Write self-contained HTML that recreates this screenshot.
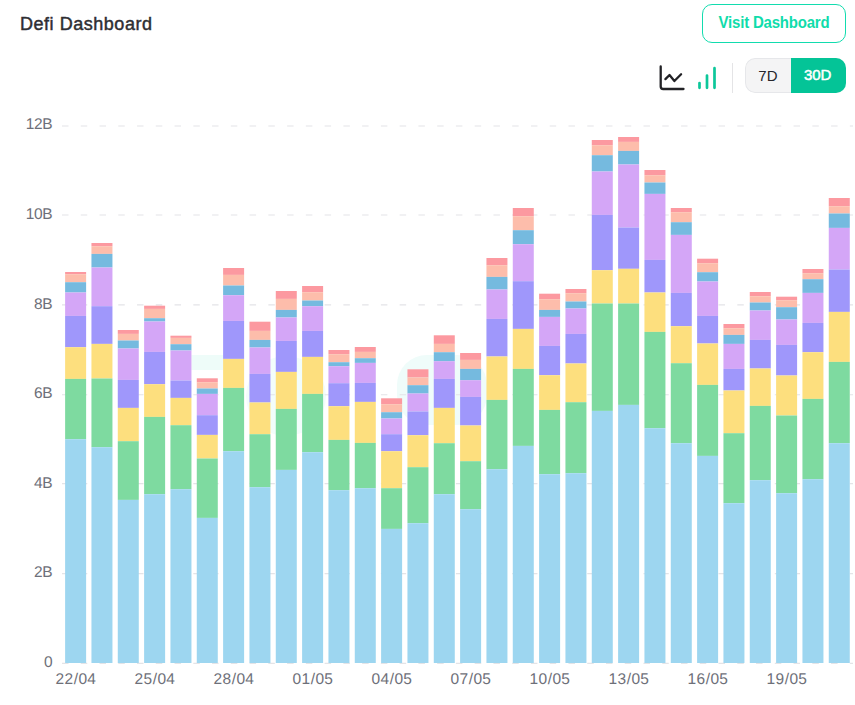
<!DOCTYPE html>
<html><head><meta charset="utf-8"><title>Defi Dashboard</title>
<style>
*{box-sizing:border-box;margin:0;padding:0}
html,body{width:855px;height:705px;background:#fff;overflow:hidden;font-family:"Liberation Sans",sans-serif}
.abs{position:absolute}
.title{position:absolute;left:20px;top:12.7px;font-size:18px;font-weight:normal;-webkit-text-stroke:0.45px #2e2e33;color:#2e2e33;line-height:22px;white-space:nowrap;letter-spacing:0.53px}
.visit{position:absolute;left:702px;top:4px;width:144px;height:39px;border:1.3px solid #12dcae;border-radius:10px;color:#0fdcab;font-weight:bold;font-size:15px;line-height:34.4px;text-align:center;white-space:nowrap;letter-spacing:-0.2px}
.visit span{display:inline-block;position:relative;top:1.4px;transform:scaleY(1.1);transform-origin:50% 62%}
.sep{position:absolute;left:732px;top:63px;width:1px;height:30px;background:#e4e4e6}
.tog{position:absolute;left:745px;top:58px;width:101px;height:35px;border-radius:10px;overflow:hidden;background:#f4f4f5}
.tog .a{position:absolute;left:0;top:0;width:46px;height:35px;line-height:33px;text-align:center;font-size:15px;color:#26262b;background:#f4f4f5;border:1px solid #e6e7ea;border-right:0;border-radius:10px 0 0 10px;text-indent:-1.2px}
.tog .b{position:absolute;left:46px;top:0;width:55px;height:35px;line-height:34.6px;text-align:center;font-size:15px;font-weight:normal;-webkit-text-stroke:0.5px #fff;color:#fff;background:#04c497;text-indent:-1.6px}
.yl{text-rendering:geometricPrecision;position:absolute;left:0;width:52.3px;text-align:right;font-size:15.5px;letter-spacing:-0.35px;line-height:20px;color:#6e7079;white-space:nowrap}
.xl{text-rendering:geometricPrecision;position:absolute;top:669.8px;width:60px;text-align:center;font-size:15.5px;letter-spacing:0.25px;line-height:20px;color:#6e7079;white-space:nowrap}
.xl i{font-style:normal;padding:0 0.3px}
svg{position:absolute;left:0;top:0}
</style></head><body>
<div class="title">Defi Dashboard</div>
<div class="visit"><span>Visit Dashboard</span></div>
<svg class="ico" width="855" height="110" viewBox="0 0 855 110">
<path d="M660.7 66.4 V86.5 Q660.7 89 663.2 89 H683.5" fill="none" stroke="#222226" stroke-width="2.3" stroke-linecap="round" stroke-linejoin="round"/>
<path d="M665.4 79.1 L669.5 75 L674.4 81 L681.1 74.2" fill="none" stroke="#222226" stroke-width="2.3" stroke-linecap="round" stroke-linejoin="round"/>
<path d="M699.5 83 V87.8 M707 75.5 V87.8 M714.5 68.2 V87.8" fill="none" stroke="#0cc79a" stroke-width="2.7" stroke-linecap="round"/>
</svg>
<div class="sep"></div>
<div class="tog"><div class="a">7D</div><div class="b">30D</div></div>
<svg width="855" height="705" viewBox="0 0 855 705" shape-rendering="auto">
<rect x="191.5" y="355" width="32" height="15" fill="#eefcf9"/>
<rect x="397" y="355" width="90" height="70" rx="30" fill="#effcfa"/>
<rect x="246" y="356" width="80" height="80" rx="40" fill="#f2fdfb"/>
<line x1="62" x2="853" y1="126.00" y2="126.00" stroke="#e4e4e7" stroke-width="1.1" stroke-dasharray="6.5 12.258"/>
<line x1="62" x2="853" y1="215.00" y2="215.00" stroke="#e4e4e7" stroke-width="1.1" stroke-dasharray="6.5 12.258"/>
<line x1="62" x2="853" y1="304.90" y2="304.90" stroke="#e4e4e7" stroke-width="1.1" stroke-dasharray="6.5 12.258"/>
<line x1="62" x2="853" y1="394.80" y2="394.80" stroke="#e4e4e7" stroke-width="1.1" stroke-dasharray="6.5 12.258"/>
<line x1="62" x2="853" y1="483.60" y2="483.60" stroke="#e4e4e7" stroke-width="1.1" stroke-dasharray="6.5 12.258"/>
<line x1="62" x2="853" y1="573.60" y2="573.60" stroke="#e4e4e7" stroke-width="1.1" stroke-dasharray="6.5 12.258"/>
<line x1="62" x2="853" y1="663.40" y2="663.40" stroke="#e4e4e7" stroke-width="1.1" stroke-dasharray="6.5 12.258"/>
<rect x="65.12" y="272.00" width="21.0" height="2.20" fill="#fc99a0"/>
<rect x="65.12" y="274.20" width="21.0" height="8.00" fill="#fdbdab"/>
<rect x="65.12" y="282.20" width="21.0" height="10.30" fill="#75badf"/>
<rect x="65.12" y="292.50" width="21.0" height="23.40" fill="#d4a6f7"/>
<rect x="65.12" y="315.90" width="21.0" height="31.30" fill="#9f97fb"/>
<rect x="65.12" y="347.20" width="21.0" height="31.70" fill="#fddf7e"/>
<rect x="65.12" y="378.90" width="21.0" height="60.30" fill="#7edaa0"/>
<rect x="65.12" y="439.20" width="21.0" height="223.80" fill="#9dd6f0"/>
<rect x="91.45" y="243.00" width="21.0" height="3.20" fill="#fc99a0"/>
<rect x="91.45" y="246.20" width="21.0" height="7.70" fill="#fdbdab"/>
<rect x="91.45" y="253.90" width="21.0" height="13.60" fill="#75badf"/>
<rect x="91.45" y="267.50" width="21.0" height="38.70" fill="#d4a6f7"/>
<rect x="91.45" y="306.20" width="21.0" height="37.70" fill="#9f97fb"/>
<rect x="91.45" y="343.90" width="21.0" height="34.60" fill="#fddf7e"/>
<rect x="91.45" y="378.50" width="21.0" height="68.70" fill="#7edaa0"/>
<rect x="91.45" y="447.20" width="21.0" height="215.80" fill="#9dd6f0"/>
<rect x="117.78" y="330.00" width="21.0" height="3.90" fill="#fc99a0"/>
<rect x="117.78" y="333.90" width="21.0" height="6.60" fill="#fdbdab"/>
<rect x="117.78" y="340.50" width="21.0" height="8.00" fill="#75badf"/>
<rect x="117.78" y="348.50" width="21.0" height="31.40" fill="#d4a6f7"/>
<rect x="117.78" y="379.90" width="21.0" height="28.00" fill="#9f97fb"/>
<rect x="117.78" y="407.90" width="21.0" height="33.30" fill="#fddf7e"/>
<rect x="117.78" y="441.20" width="21.0" height="58.70" fill="#7edaa0"/>
<rect x="117.78" y="499.90" width="21.0" height="163.10" fill="#9dd6f0"/>
<rect x="144.12" y="305.70" width="21.0" height="3.20" fill="#fc99a0"/>
<rect x="144.12" y="308.90" width="21.0" height="9.30" fill="#fdbdab"/>
<rect x="144.12" y="318.20" width="21.0" height="3.30" fill="#75badf"/>
<rect x="144.12" y="321.50" width="21.0" height="30.40" fill="#d4a6f7"/>
<rect x="144.12" y="351.90" width="21.0" height="32.30" fill="#9f97fb"/>
<rect x="144.12" y="384.20" width="21.0" height="32.70" fill="#fddf7e"/>
<rect x="144.12" y="416.90" width="21.0" height="77.30" fill="#7edaa0"/>
<rect x="144.12" y="494.20" width="21.0" height="168.80" fill="#9dd6f0"/>
<rect x="170.45" y="335.70" width="21.0" height="2.20" fill="#fc99a0"/>
<rect x="170.45" y="337.90" width="21.0" height="6.30" fill="#fdbdab"/>
<rect x="170.45" y="344.20" width="21.0" height="6.30" fill="#75badf"/>
<rect x="170.45" y="350.50" width="21.0" height="30.00" fill="#d4a6f7"/>
<rect x="170.45" y="380.50" width="21.0" height="17.40" fill="#9f97fb"/>
<rect x="170.45" y="397.90" width="21.0" height="27.30" fill="#fddf7e"/>
<rect x="170.45" y="425.20" width="21.0" height="64.00" fill="#7edaa0"/>
<rect x="170.45" y="489.20" width="21.0" height="173.80" fill="#9dd6f0"/>
<rect x="196.78" y="378.30" width="21.0" height="3.90" fill="#fc99a0"/>
<rect x="196.78" y="382.20" width="21.0" height="6.30" fill="#fdbdab"/>
<rect x="196.78" y="388.50" width="21.0" height="5.40" fill="#75badf"/>
<rect x="196.78" y="393.90" width="21.0" height="21.30" fill="#d4a6f7"/>
<rect x="196.78" y="415.20" width="21.0" height="19.70" fill="#9f97fb"/>
<rect x="196.78" y="434.90" width="21.0" height="23.60" fill="#fddf7e"/>
<rect x="196.78" y="458.50" width="21.0" height="59.40" fill="#7edaa0"/>
<rect x="196.78" y="517.90" width="21.0" height="145.10" fill="#9dd6f0"/>
<rect x="223.11" y="268.00" width="21.0" height="6.90" fill="#fc99a0"/>
<rect x="223.11" y="274.90" width="21.0" height="10.60" fill="#fdbdab"/>
<rect x="223.11" y="285.50" width="21.0" height="9.70" fill="#75badf"/>
<rect x="223.11" y="295.20" width="21.0" height="25.70" fill="#d4a6f7"/>
<rect x="223.11" y="320.90" width="21.0" height="38.00" fill="#9f97fb"/>
<rect x="223.11" y="358.90" width="21.0" height="29.00" fill="#fddf7e"/>
<rect x="223.11" y="387.90" width="21.0" height="63.30" fill="#7edaa0"/>
<rect x="223.11" y="451.20" width="21.0" height="211.80" fill="#9dd6f0"/>
<rect x="249.45" y="321.70" width="21.0" height="9.20" fill="#fc99a0"/>
<rect x="249.45" y="330.90" width="21.0" height="9.00" fill="#fdbdab"/>
<rect x="249.45" y="339.90" width="21.0" height="7.60" fill="#75badf"/>
<rect x="249.45" y="347.50" width="21.0" height="26.40" fill="#d4a6f7"/>
<rect x="249.45" y="373.90" width="21.0" height="28.60" fill="#9f97fb"/>
<rect x="249.45" y="402.50" width="21.0" height="31.70" fill="#fddf7e"/>
<rect x="249.45" y="434.20" width="21.0" height="53.00" fill="#7edaa0"/>
<rect x="249.45" y="487.20" width="21.0" height="175.80" fill="#9dd6f0"/>
<rect x="275.78" y="291.00" width="21.0" height="7.90" fill="#fc99a0"/>
<rect x="275.78" y="298.90" width="21.0" height="11.00" fill="#fdbdab"/>
<rect x="275.78" y="309.90" width="21.0" height="7.60" fill="#75badf"/>
<rect x="275.78" y="317.50" width="21.0" height="23.40" fill="#d4a6f7"/>
<rect x="275.78" y="340.90" width="21.0" height="31.00" fill="#9f97fb"/>
<rect x="275.78" y="371.90" width="21.0" height="37.00" fill="#fddf7e"/>
<rect x="275.78" y="408.90" width="21.0" height="61.00" fill="#7edaa0"/>
<rect x="275.78" y="469.90" width="21.0" height="193.10" fill="#9dd6f0"/>
<rect x="302.11" y="286.00" width="21.0" height="6.20" fill="#fc99a0"/>
<rect x="302.11" y="292.20" width="21.0" height="8.30" fill="#fdbdab"/>
<rect x="302.11" y="300.50" width="21.0" height="5.70" fill="#75badf"/>
<rect x="302.11" y="306.20" width="21.0" height="24.70" fill="#d4a6f7"/>
<rect x="302.11" y="330.90" width="21.0" height="26.00" fill="#9f97fb"/>
<rect x="302.11" y="356.90" width="21.0" height="37.00" fill="#fddf7e"/>
<rect x="302.11" y="393.90" width="21.0" height="58.30" fill="#7edaa0"/>
<rect x="302.11" y="452.20" width="21.0" height="210.80" fill="#9dd6f0"/>
<rect x="328.45" y="350.00" width="21.0" height="4.20" fill="#fc99a0"/>
<rect x="328.45" y="354.20" width="21.0" height="8.00" fill="#fdbdab"/>
<rect x="328.45" y="362.20" width="21.0" height="4.00" fill="#75badf"/>
<rect x="328.45" y="366.20" width="21.0" height="17.00" fill="#d4a6f7"/>
<rect x="328.45" y="383.20" width="21.0" height="23.00" fill="#9f97fb"/>
<rect x="328.45" y="406.20" width="21.0" height="33.70" fill="#fddf7e"/>
<rect x="328.45" y="439.90" width="21.0" height="50.30" fill="#7edaa0"/>
<rect x="328.45" y="490.20" width="21.0" height="172.80" fill="#9dd6f0"/>
<rect x="354.78" y="347.00" width="21.0" height="4.90" fill="#fc99a0"/>
<rect x="354.78" y="351.90" width="21.0" height="6.30" fill="#fdbdab"/>
<rect x="354.78" y="358.20" width="21.0" height="4.70" fill="#75badf"/>
<rect x="354.78" y="362.90" width="21.0" height="20.00" fill="#d4a6f7"/>
<rect x="354.78" y="382.90" width="21.0" height="19.00" fill="#9f97fb"/>
<rect x="354.78" y="401.90" width="21.0" height="41.00" fill="#fddf7e"/>
<rect x="354.78" y="442.90" width="21.0" height="45.30" fill="#7edaa0"/>
<rect x="354.78" y="488.20" width="21.0" height="174.80" fill="#9dd6f0"/>
<rect x="381.11" y="398.30" width="21.0" height="5.90" fill="#fc99a0"/>
<rect x="381.11" y="404.20" width="21.0" height="8.00" fill="#fdbdab"/>
<rect x="381.11" y="412.20" width="21.0" height="6.30" fill="#75badf"/>
<rect x="381.11" y="418.50" width="21.0" height="15.70" fill="#d4a6f7"/>
<rect x="381.11" y="434.20" width="21.0" height="17.00" fill="#9f97fb"/>
<rect x="381.11" y="451.20" width="21.0" height="37.00" fill="#fddf7e"/>
<rect x="381.11" y="488.20" width="21.0" height="40.70" fill="#7edaa0"/>
<rect x="381.11" y="528.90" width="21.0" height="134.10" fill="#9dd6f0"/>
<rect x="407.45" y="369.30" width="21.0" height="8.20" fill="#fc99a0"/>
<rect x="407.45" y="377.50" width="21.0" height="7.70" fill="#fdbdab"/>
<rect x="407.45" y="385.20" width="21.0" height="8.30" fill="#75badf"/>
<rect x="407.45" y="393.50" width="21.0" height="18.00" fill="#d4a6f7"/>
<rect x="407.45" y="411.50" width="21.0" height="23.70" fill="#9f97fb"/>
<rect x="407.45" y="435.20" width="21.0" height="32.00" fill="#fddf7e"/>
<rect x="407.45" y="467.20" width="21.0" height="56.00" fill="#7edaa0"/>
<rect x="407.45" y="523.20" width="21.0" height="139.80" fill="#9dd6f0"/>
<rect x="433.78" y="335.30" width="21.0" height="8.60" fill="#fc99a0"/>
<rect x="433.78" y="343.90" width="21.0" height="8.30" fill="#fdbdab"/>
<rect x="433.78" y="352.20" width="21.0" height="9.00" fill="#75badf"/>
<rect x="433.78" y="361.20" width="21.0" height="17.70" fill="#d4a6f7"/>
<rect x="433.78" y="378.90" width="21.0" height="29.00" fill="#9f97fb"/>
<rect x="433.78" y="407.90" width="21.0" height="35.30" fill="#fddf7e"/>
<rect x="433.78" y="443.20" width="21.0" height="51.00" fill="#7edaa0"/>
<rect x="433.78" y="494.20" width="21.0" height="168.80" fill="#9dd6f0"/>
<rect x="460.11" y="353.00" width="21.0" height="6.90" fill="#fc99a0"/>
<rect x="460.11" y="359.90" width="21.0" height="9.00" fill="#fdbdab"/>
<rect x="460.11" y="368.90" width="21.0" height="11.30" fill="#75badf"/>
<rect x="460.11" y="380.20" width="21.0" height="16.70" fill="#d4a6f7"/>
<rect x="460.11" y="396.90" width="21.0" height="28.60" fill="#9f97fb"/>
<rect x="460.11" y="425.50" width="21.0" height="35.70" fill="#fddf7e"/>
<rect x="460.11" y="461.20" width="21.0" height="48.00" fill="#7edaa0"/>
<rect x="460.11" y="509.20" width="21.0" height="153.80" fill="#9dd6f0"/>
<rect x="486.44" y="258.00" width="21.0" height="7.20" fill="#fc99a0"/>
<rect x="486.44" y="265.20" width="21.0" height="11.70" fill="#fdbdab"/>
<rect x="486.44" y="276.90" width="21.0" height="12.60" fill="#75badf"/>
<rect x="486.44" y="289.50" width="21.0" height="29.40" fill="#d4a6f7"/>
<rect x="486.44" y="318.90" width="21.0" height="37.60" fill="#9f97fb"/>
<rect x="486.44" y="356.50" width="21.0" height="43.40" fill="#fddf7e"/>
<rect x="486.44" y="399.90" width="21.0" height="69.30" fill="#7edaa0"/>
<rect x="486.44" y="469.20" width="21.0" height="193.80" fill="#9dd6f0"/>
<rect x="512.78" y="208.00" width="21.0" height="8.20" fill="#fc99a0"/>
<rect x="512.78" y="216.20" width="21.0" height="14.00" fill="#fdbdab"/>
<rect x="512.78" y="230.20" width="21.0" height="14.00" fill="#75badf"/>
<rect x="512.78" y="244.20" width="21.0" height="37.00" fill="#d4a6f7"/>
<rect x="512.78" y="281.20" width="21.0" height="47.70" fill="#9f97fb"/>
<rect x="512.78" y="328.90" width="21.0" height="40.00" fill="#fddf7e"/>
<rect x="512.78" y="368.90" width="21.0" height="77.00" fill="#7edaa0"/>
<rect x="512.78" y="445.90" width="21.0" height="217.10" fill="#9dd6f0"/>
<rect x="539.11" y="293.70" width="21.0" height="5.50" fill="#fc99a0"/>
<rect x="539.11" y="299.20" width="21.0" height="10.70" fill="#fdbdab"/>
<rect x="539.11" y="309.90" width="21.0" height="7.00" fill="#75badf"/>
<rect x="539.11" y="316.90" width="21.0" height="29.00" fill="#d4a6f7"/>
<rect x="539.11" y="345.90" width="21.0" height="29.30" fill="#9f97fb"/>
<rect x="539.11" y="375.20" width="21.0" height="34.70" fill="#fddf7e"/>
<rect x="539.11" y="409.90" width="21.0" height="64.30" fill="#7edaa0"/>
<rect x="539.11" y="474.20" width="21.0" height="188.80" fill="#9dd6f0"/>
<rect x="565.44" y="289.00" width="21.0" height="4.20" fill="#fc99a0"/>
<rect x="565.44" y="293.20" width="21.0" height="8.30" fill="#fdbdab"/>
<rect x="565.44" y="301.50" width="21.0" height="7.00" fill="#75badf"/>
<rect x="565.44" y="308.50" width="21.0" height="25.40" fill="#d4a6f7"/>
<rect x="565.44" y="333.90" width="21.0" height="29.60" fill="#9f97fb"/>
<rect x="565.44" y="363.50" width="21.0" height="38.70" fill="#fddf7e"/>
<rect x="565.44" y="402.20" width="21.0" height="71.00" fill="#7edaa0"/>
<rect x="565.44" y="473.20" width="21.0" height="189.80" fill="#9dd6f0"/>
<rect x="591.78" y="140.00" width="21.0" height="5.20" fill="#fc99a0"/>
<rect x="591.78" y="145.20" width="21.0" height="10.00" fill="#fdbdab"/>
<rect x="591.78" y="155.20" width="21.0" height="16.30" fill="#75badf"/>
<rect x="591.78" y="171.50" width="21.0" height="43.40" fill="#d4a6f7"/>
<rect x="591.78" y="214.90" width="21.0" height="55.30" fill="#9f97fb"/>
<rect x="591.78" y="270.20" width="21.0" height="33.30" fill="#fddf7e"/>
<rect x="591.78" y="303.50" width="21.0" height="107.40" fill="#7edaa0"/>
<rect x="591.78" y="410.90" width="21.0" height="252.10" fill="#9dd6f0"/>
<rect x="618.11" y="137.00" width="21.0" height="4.90" fill="#fc99a0"/>
<rect x="618.11" y="141.90" width="21.0" height="9.00" fill="#fdbdab"/>
<rect x="618.11" y="150.90" width="21.0" height="13.60" fill="#75badf"/>
<rect x="618.11" y="164.50" width="21.0" height="63.00" fill="#d4a6f7"/>
<rect x="618.11" y="227.50" width="21.0" height="41.30" fill="#9f97fb"/>
<rect x="618.11" y="268.80" width="21.0" height="34.70" fill="#fddf7e"/>
<rect x="618.11" y="303.50" width="21.0" height="101.40" fill="#7edaa0"/>
<rect x="618.11" y="404.90" width="21.0" height="258.10" fill="#9dd6f0"/>
<rect x="644.44" y="170.00" width="21.0" height="5.20" fill="#fc99a0"/>
<rect x="644.44" y="175.20" width="21.0" height="7.30" fill="#fdbdab"/>
<rect x="644.44" y="182.50" width="21.0" height="11.40" fill="#75badf"/>
<rect x="644.44" y="193.90" width="21.0" height="66.00" fill="#d4a6f7"/>
<rect x="644.44" y="259.90" width="21.0" height="32.60" fill="#9f97fb"/>
<rect x="644.44" y="292.50" width="21.0" height="39.40" fill="#fddf7e"/>
<rect x="644.44" y="331.90" width="21.0" height="96.30" fill="#7edaa0"/>
<rect x="644.44" y="428.20" width="21.0" height="234.80" fill="#9dd6f0"/>
<rect x="670.78" y="208.00" width="21.0" height="4.20" fill="#fc99a0"/>
<rect x="670.78" y="212.20" width="21.0" height="10.00" fill="#fdbdab"/>
<rect x="670.78" y="222.20" width="21.0" height="12.70" fill="#75badf"/>
<rect x="670.78" y="234.90" width="21.0" height="58.00" fill="#d4a6f7"/>
<rect x="670.78" y="292.90" width="21.0" height="33.30" fill="#9f97fb"/>
<rect x="670.78" y="326.20" width="21.0" height="37.00" fill="#fddf7e"/>
<rect x="670.78" y="363.20" width="21.0" height="80.00" fill="#7edaa0"/>
<rect x="670.78" y="443.20" width="21.0" height="219.80" fill="#9dd6f0"/>
<rect x="697.11" y="258.70" width="21.0" height="4.50" fill="#fc99a0"/>
<rect x="697.11" y="263.20" width="21.0" height="9.00" fill="#fdbdab"/>
<rect x="697.11" y="272.20" width="21.0" height="9.30" fill="#75badf"/>
<rect x="697.11" y="281.50" width="21.0" height="34.40" fill="#d4a6f7"/>
<rect x="697.11" y="315.90" width="21.0" height="27.60" fill="#9f97fb"/>
<rect x="697.11" y="343.50" width="21.0" height="41.40" fill="#fddf7e"/>
<rect x="697.11" y="384.90" width="21.0" height="71.00" fill="#7edaa0"/>
<rect x="697.11" y="455.90" width="21.0" height="207.10" fill="#9dd6f0"/>
<rect x="723.44" y="324.00" width="21.0" height="4.20" fill="#fc99a0"/>
<rect x="723.44" y="328.20" width="21.0" height="6.70" fill="#fdbdab"/>
<rect x="723.44" y="334.90" width="21.0" height="9.00" fill="#75badf"/>
<rect x="723.44" y="343.90" width="21.0" height="25.00" fill="#d4a6f7"/>
<rect x="723.44" y="368.90" width="21.0" height="21.60" fill="#9f97fb"/>
<rect x="723.44" y="390.50" width="21.0" height="42.70" fill="#fddf7e"/>
<rect x="723.44" y="433.20" width="21.0" height="70.00" fill="#7edaa0"/>
<rect x="723.44" y="503.20" width="21.0" height="159.80" fill="#9dd6f0"/>
<rect x="749.77" y="292.00" width="21.0" height="4.20" fill="#fc99a0"/>
<rect x="749.77" y="296.20" width="21.0" height="6.30" fill="#fdbdab"/>
<rect x="749.77" y="302.50" width="21.0" height="8.00" fill="#75badf"/>
<rect x="749.77" y="310.50" width="21.0" height="29.40" fill="#d4a6f7"/>
<rect x="749.77" y="339.90" width="21.0" height="28.60" fill="#9f97fb"/>
<rect x="749.77" y="368.50" width="21.0" height="37.40" fill="#fddf7e"/>
<rect x="749.77" y="405.90" width="21.0" height="74.30" fill="#7edaa0"/>
<rect x="749.77" y="480.20" width="21.0" height="182.80" fill="#9dd6f0"/>
<rect x="776.11" y="296.70" width="21.0" height="3.50" fill="#fc99a0"/>
<rect x="776.11" y="300.20" width="21.0" height="7.00" fill="#fdbdab"/>
<rect x="776.11" y="307.20" width="21.0" height="12.30" fill="#75badf"/>
<rect x="776.11" y="319.50" width="21.0" height="25.40" fill="#d4a6f7"/>
<rect x="776.11" y="344.90" width="21.0" height="30.60" fill="#9f97fb"/>
<rect x="776.11" y="375.50" width="21.0" height="40.00" fill="#fddf7e"/>
<rect x="776.11" y="415.50" width="21.0" height="77.70" fill="#7edaa0"/>
<rect x="776.11" y="493.20" width="21.0" height="169.80" fill="#9dd6f0"/>
<rect x="802.44" y="269.00" width="21.0" height="4.20" fill="#fc99a0"/>
<rect x="802.44" y="273.20" width="21.0" height="6.00" fill="#fdbdab"/>
<rect x="802.44" y="279.20" width="21.0" height="13.70" fill="#75badf"/>
<rect x="802.44" y="292.90" width="21.0" height="30.00" fill="#d4a6f7"/>
<rect x="802.44" y="322.90" width="21.0" height="29.30" fill="#9f97fb"/>
<rect x="802.44" y="352.20" width="21.0" height="46.70" fill="#fddf7e"/>
<rect x="802.44" y="398.90" width="21.0" height="80.30" fill="#7edaa0"/>
<rect x="802.44" y="479.20" width="21.0" height="183.80" fill="#9dd6f0"/>
<rect x="828.77" y="198.00" width="21.0" height="8.20" fill="#fc99a0"/>
<rect x="828.77" y="206.20" width="21.0" height="7.30" fill="#fdbdab"/>
<rect x="828.77" y="213.50" width="21.0" height="14.40" fill="#75badf"/>
<rect x="828.77" y="227.90" width="21.0" height="41.60" fill="#d4a6f7"/>
<rect x="828.77" y="269.50" width="21.0" height="42.40" fill="#9f97fb"/>
<rect x="828.77" y="311.90" width="21.0" height="50.00" fill="#fddf7e"/>
<rect x="828.77" y="361.90" width="21.0" height="81.30" fill="#7edaa0"/>
<rect x="828.77" y="443.20" width="21.0" height="219.80" fill="#9dd6f0"/>
</svg>
<div class="yl" style="top:115.25px">12B</div><div class="yl" style="top:205.25px">10B</div><div class="yl" style="top:295.25px">8B</div><div class="yl" style="top:384.30px">6B</div><div class="yl" style="top:474.15px">4B</div><div class="yl" style="top:563.30px">2B</div><div class="yl" style="top:653.20px">0</div>
<div class="xl" style="left:45.92px">22<i>/</i>04</div><div class="xl" style="left:124.92px">25<i>/</i>04</div><div class="xl" style="left:203.91px">28<i>/</i>04</div><div class="xl" style="left:282.91px">01<i>/</i>05</div><div class="xl" style="left:361.91px">04<i>/</i>05</div><div class="xl" style="left:440.91px">07<i>/</i>05</div><div class="xl" style="left:519.91px">10<i>/</i>05</div><div class="xl" style="left:598.91px">13<i>/</i>05</div><div class="xl" style="left:677.91px">16<i>/</i>05</div><div class="xl" style="left:756.91px">19<i>/</i>05</div>
</body></html>
